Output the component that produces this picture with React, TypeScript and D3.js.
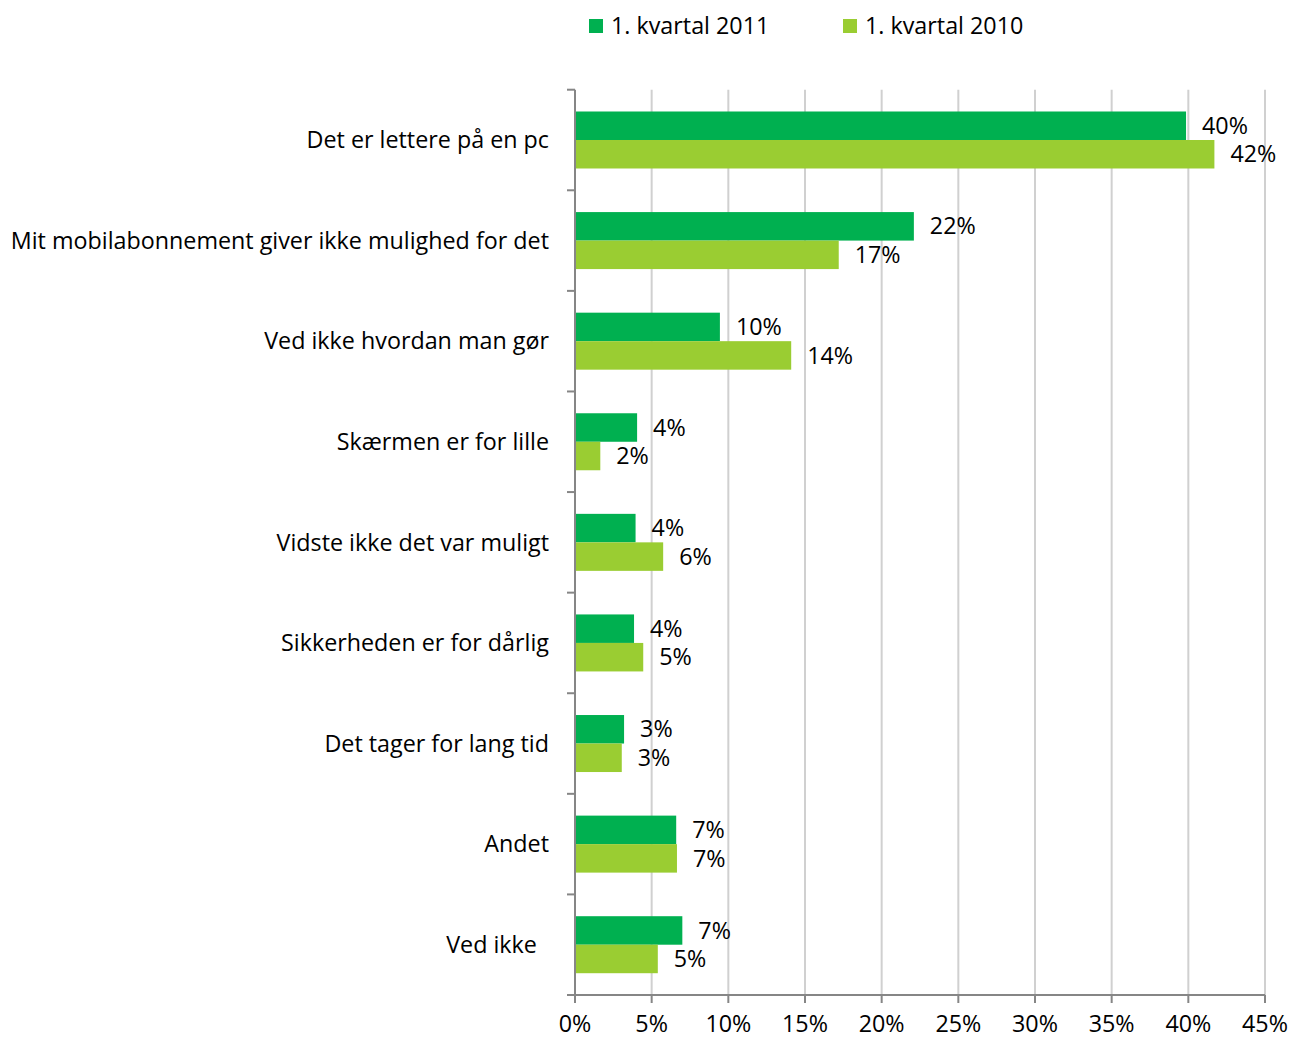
import React from "react";
import * as d3 from "d3";

const categories = [
  "Det er lettere på en pc",
  "Mit mobilabonnement giver ikke mulighed for det",
  "Ved ikke hvordan man gør",
  "Skærmen er for lille",
  "Vidste ikke det var muligt",
  "Sikkerheden er for dårlig",
  "Det tager for lang tid",
  "Andet",
  "Ved ikke\u00A0\u00A0",
];
const series2011 = [39.85, 22.1, 9.45, 4.05, 3.95, 3.85, 3.2, 6.6, 7.0];
const series2010 = [41.7, 17.2, 14.1, 1.65, 5.75, 4.45, 3.05, 6.65, 5.4];
const labels2011 = ["40%", "22%", "10%", "4%", "4%", "4%", "3%", "7%", "7%"];
const labels2010 = ["42%", "17%", "14%", "2%", "6%", "5%", "3%", "7%", "5%"];
const xTicks = [0, 5, 10, 15, 20, 25, 30, 35, 40, 45];
const seriesNames = ["1. kvartal 2011", "1. kvartal 2010"];
const colors = ["#00B050", "#9ACD32"];

const FONT = "'Open Sans', Lato, sans-serif";

export default function App() {
  const W = 1300, H = 1039;
  const left = 575, right = 1265, top = 89.7, bottom = 995;
  const x = d3.scaleLinear().domain([0, 45]).range([left, right]);
  const y = d3.scaleBand<number>().domain(d3.range(categories.length)).range([top, bottom]);
  const bw = 28.5;
  const series = [series2011, series2010];
  const labs = [labels2011, labels2010];
  const fs = 23.3;

  return (
    <svg width={W} height={H} style={{ position: "absolute", left: 0, top: 0, background: "#fff" }} fontFamily={FONT}>
      {xTicks.slice(1).map((t) => (
        <line key={"g" + t} x1={x(t)} x2={x(t)} y1={top} y2={bottom} stroke="#d0d0d0" strokeWidth={2} />
      ))}
      {categories.map((c, i) => {
        const cy = (y(i) as number) + y.bandwidth() / 2;
        return (
          <g key={"b" + i}>
            {series.map((s, k) => {
              const by = cy - bw + k * bw;
              return (
                <g key={k}>
                  <rect x={x(0)} y={by} width={x(s[i]) - x(0)} height={bw} fill={colors[k]} />
                  <text x={x(s[i]) + 16} y={by + bw / 2} dy="0.35em" fontSize={fs} fill="#000">
                    {labs[k][i]}
                  </text>
                </g>
              );
            })}
            <text x={549} y={cy} dy="0.35em" textAnchor="end" fontSize={fs} fill="#000" style={{ whiteSpace: "pre" }}>
              {c}
            </text>
          </g>
        );
      })}
      <line x1={left} x2={left} y1={top} y2={bottom} stroke="#868686" strokeWidth={2} />
      {d3.range(categories.length + 1).map((i) => {
        const yy = i < categories.length ? (y(i) as number) : bottom;
        return <line key={"yt" + i} x1={567} x2={left} y1={yy} y2={yy} stroke="#868686" strokeWidth={2} />;
      })}
      <line x1={left} x2={right} y1={bottom} y2={bottom} stroke="#868686" strokeWidth={2} />
      {xTicks.map((t) => (
        <g key={"xt" + t}>
          <line x1={x(t)} x2={x(t)} y1={bottom} y2={bottom + 8} stroke="#868686" strokeWidth={2} />
          <text x={x(t)} y={1032} textAnchor="middle" fontSize={fs} fill="#000">
            {t + "%"}
          </text>
        </g>
      ))}
      {seriesNames.map((n, k) => {
        const lx = k === 0 ? 589 : 843;
        return (
          <g key={"l" + k}>
            <rect x={lx} y={19} width={14} height={14} fill={colors[k]} />
            <text x={lx + 22} y={26} dy="0.35em" fontSize={fs} fill="#000">
              {n}
            </text>
          </g>
        );
      })}
    </svg>
  );
}
